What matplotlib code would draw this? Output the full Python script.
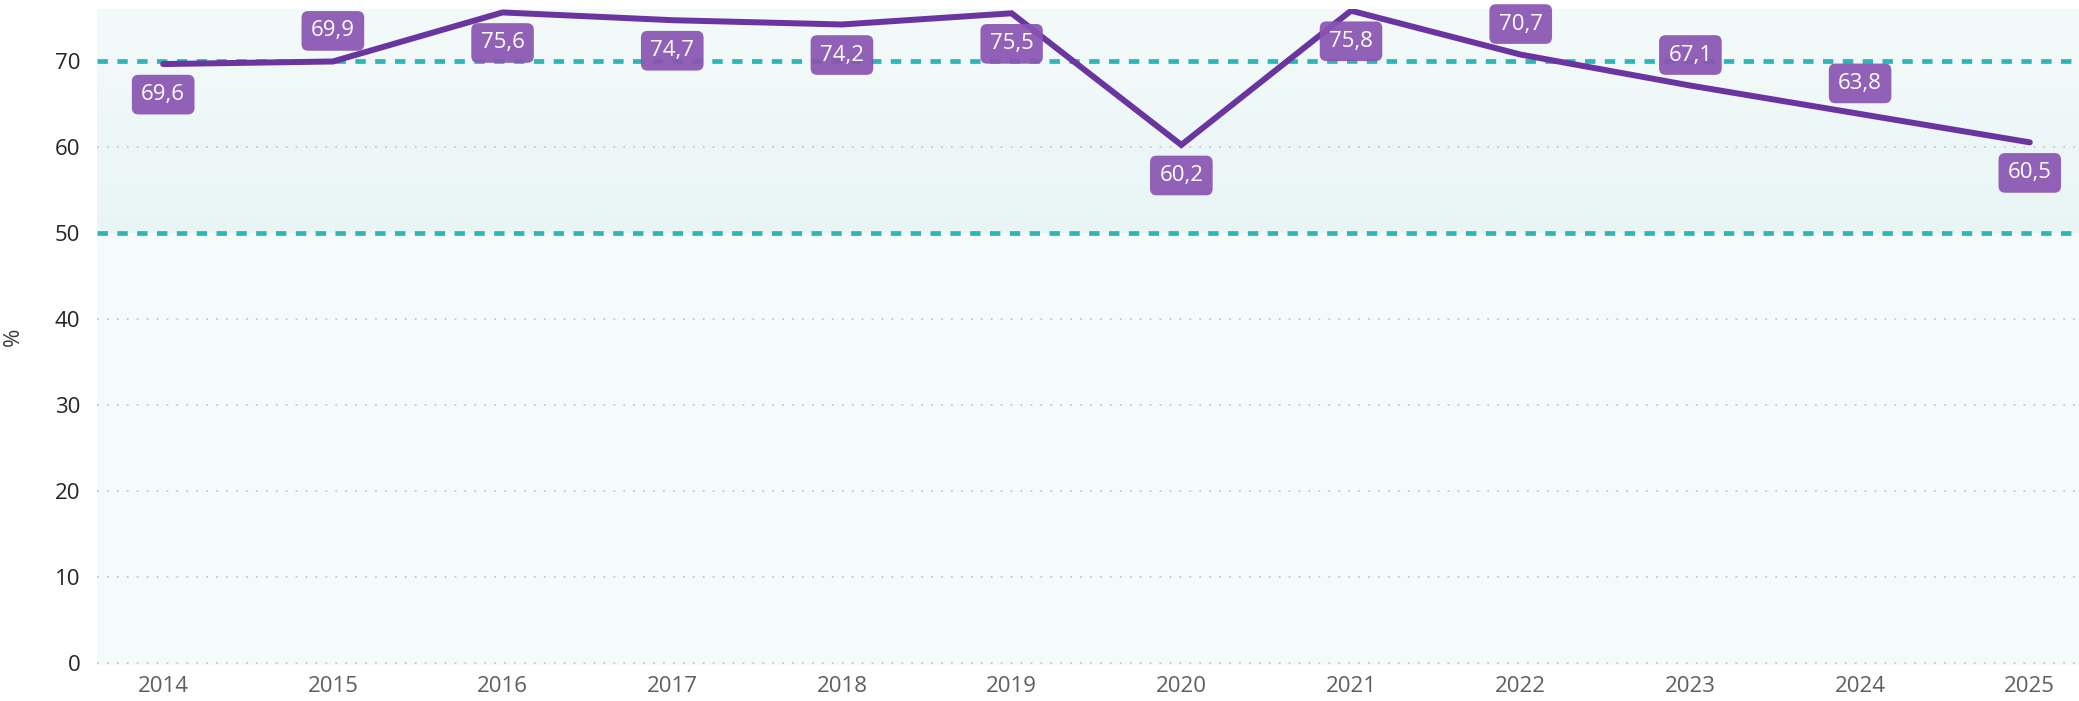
import numpy as np
import matplotlib.pyplot as plt
from matplotlib.colors import LinearSegmentedColormap

# === DATA ===
years = [2014, 2015, 2016, 2017, 2018, 2019, 2020, 2021, 2022, 2023, 2024, 2025]
values = [69.6, 69.9, 75.6, 74.7, 74.2, 75.5, 60.2, 75.8, 70.7, 67.1, 63.8, 60.5]
label_above = [False, True, False, False, False, False, False, False, True, True, True, False]
ref_lines = [50, 70]
y_ticks = [0, 10, 20, 30, 40, 50, 60, 70]

# === STYLE ===
LINE_COLOR = "#6a35a0"
BOX_COLOR = "#8a55b2"
TEAL = "#2db6b6"
plt.rcParams['font.family'] = ['Open Sans', 'DejaVu Sans']

fig = plt.figure(figsize=(20.79, 7.01), dpi=100)
ax = fig.add_axes([97 / 2079, 1 - 665 / 701, 1 - 97 / 2079, (665 - 9) / 701])

x0, x1 = 2013.61, 2025.29
y0, y1 = -0.25, 76.0
ax.set_xlim(x0, x1)
ax.set_ylim(y0, y1)
ax.set_facecolor("#f5fafb")

# tinted band above the lower reference line
cmap = LinearSegmentedColormap.from_list("band", ["#e9f5f5", "#f4fafa"])
grad = np.linspace(0, 1, 256).reshape(-1, 1)
ax.imshow(grad, extent=[x0, x1, 50, y1], origin="lower", aspect="auto",
          cmap=cmap, zorder=0)

# dotted grid
for t in y_ticks:
    if t not in ref_lines:
        ax.axhline(t, color="#c9c9c9", lw=1.3, ls=(0, (1, 4.5)), zorder=1)

for r in ref_lines:
    ax.axhline(r, color=TEAL, lw=3.4, ls=(0, (2.2, 2.0)), zorder=2)

ax.plot(years, values, color=LINE_COLOR, lw=4.3, solid_capstyle="round",
        solid_joinstyle="miter", zorder=3)

for x, v, up in zip(years, values, label_above):
    off = 22 if up else -22
    ax.annotate(f"{v:.1f}".replace(".", ","), (x, v), xytext=(0, off),
                textcoords="offset points", ha="center", va="center",
                fontsize=16, color="white", zorder=4,
                bbox=dict(boxstyle="round,pad=0.42,rounding_size=0.3",
                          fc=BOX_COLOR, ec="none", alpha=0.93))

ax.set_xticks(years)
ax.set_xticklabels([str(y) for y in years], fontsize=16, color="#605e5c")
ax.set_yticks(y_ticks)
ax.set_yticklabels([str(t) for t in y_ticks], fontsize=16, color="#252423")
ax.tick_params(length=0, pad=12)
ax.tick_params(axis="x", pad=8)
ax.set_ylabel("%", fontsize=16, color="#3b3a39", labelpad=22)
for s in ax.spines.values():
    s.set_visible(False)

plt.savefig("out.png", dpi=100)
